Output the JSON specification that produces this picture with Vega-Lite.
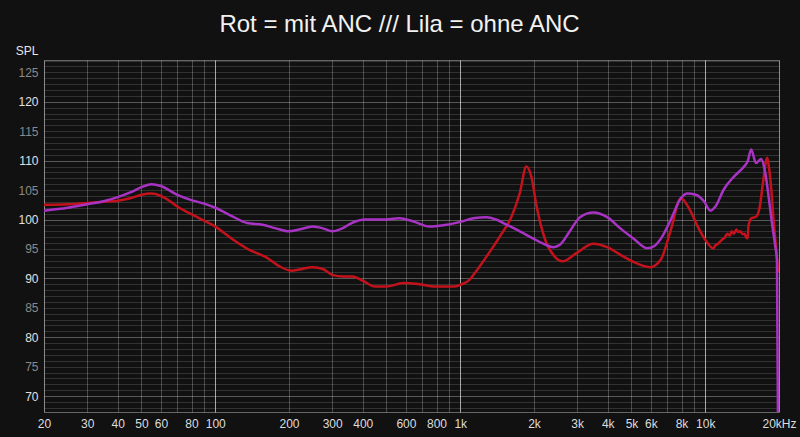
{
  "$schema": "https://vega.github.io/schema/vega-lite/v6.json",
  "width": 735,
  "height": 352,
  "autosize": {"type": "none"},
  "padding": {"left": 44, "top": 60, "right": 21, "bottom": 25},
  "background": "#111111",
  "title": {
    "text": "Rot = mit ANC /// Lila = ohne ANC",
    "color": "#f2f2f2",
    "font": "Liberation Sans",
    "fontSize": 24,
    "fontWeight": "normal",
    "anchor": "middle",
    "dx": -12,
    "baseline": "alphabetic",
    "offset": -12
  },
  "config": {"view": {"stroke": "#666666", "fill": "#111111"}},
  "datasets": {
    "rot": [
      {"f": 20, "db": 102.5}, {"f": 25, "db": 102.6}, {"f": 30, "db": 102.8}, {"f": 35, "db": 103.0},
      {"f": 40, "db": 103.2}, {"f": 45, "db": 103.6}, {"f": 50, "db": 104.2}, {"f": 55, "db": 104.4},
      {"f": 60, "db": 104.0}, {"f": 65, "db": 103.2}, {"f": 70, "db": 102.2}, {"f": 80, "db": 100.9},
      {"f": 90, "db": 99.8}, {"f": 100, "db": 98.8}, {"f": 118, "db": 96.6}, {"f": 137, "db": 94.9},
      {"f": 161, "db": 93.6}, {"f": 182, "db": 92.1}, {"f": 205, "db": 91.3}, {"f": 220, "db": 91.5},
      {"f": 250, "db": 91.9}, {"f": 275, "db": 91.6}, {"f": 300, "db": 90.6}, {"f": 333, "db": 90.3},
      {"f": 363, "db": 90.3}, {"f": 400, "db": 89.6}, {"f": 450, "db": 88.6}, {"f": 500, "db": 88.6},
      {"f": 585, "db": 89.2}, {"f": 660, "db": 89.1}, {"f": 795, "db": 88.6}, {"f": 940, "db": 88.6},
      {"f": 1000, "db": 88.9}, {"f": 1100, "db": 89.9}, {"f": 1133, "db": 90.6}, {"f": 1280, "db": 93.7},
      {"f": 1450, "db": 97.1}, {"f": 1620, "db": 100.5}, {"f": 1750, "db": 104.5}, {"f": 1860, "db": 109.0},
      {"f": 1950, "db": 107.3}, {"f": 2050, "db": 102.2}, {"f": 2220, "db": 96.6}, {"f": 2430, "db": 93.7},
      {"f": 2620, "db": 92.9}, {"f": 2980, "db": 94.3}, {"f": 3500, "db": 95.9}, {"f": 3980, "db": 95.3},
      {"f": 4510, "db": 94.0}, {"f": 5290, "db": 92.5}, {"f": 5960, "db": 91.9}, {"f": 6590, "db": 93.2},
      {"f": 7240, "db": 98.3}, {"f": 7950, "db": 103.6}, {"f": 8640, "db": 101.7}, {"f": 9320, "db": 98.8},
      {"f": 10100, "db": 96.3}, {"f": 10770, "db": 95.1}, {"f": 11000, "db": 95.6}, {"f": 11300, "db": 95.9},
      {"f": 11650, "db": 96.5}, {"f": 12000, "db": 96.9}, {"f": 12300, "db": 97.6}, {"f": 12600, "db": 97.3},
      {"f": 12830, "db": 98.0}, {"f": 13100, "db": 97.6}, {"f": 13400, "db": 98.3}, {"f": 13610, "db": 97.9},
      {"f": 13900, "db": 98.0}, {"f": 14200, "db": 97.5}, {"f": 14500, "db": 97.6}, {"f": 14660, "db": 97.0},
      {"f": 14900, "db": 96.8}, {"f": 15000, "db": 98.8}, {"f": 15400, "db": 100.2}, {"f": 16160, "db": 100.5},
      {"f": 16700, "db": 102.2}, {"f": 17200, "db": 106.2}, {"f": 17900, "db": 110.5}, {"f": 18140, "db": 109.3},
      {"f": 18600, "db": 105.1}, {"f": 19000, "db": 100.0}, {"f": 19320, "db": 96.5}, {"f": 19620, "db": 93.5},
      {"f": 19850, "db": 91.0}
    ],
    "lila": [
      {"f": 20, "db": 101.5}, {"f": 25, "db": 102.0}, {"f": 30, "db": 102.6}, {"f": 35, "db": 103.1},
      {"f": 40, "db": 103.8}, {"f": 45, "db": 104.6}, {"f": 50, "db": 105.5}, {"f": 55, "db": 106.0},
      {"f": 60, "db": 105.7}, {"f": 70, "db": 104.2}, {"f": 80, "db": 103.3}, {"f": 90, "db": 102.7},
      {"f": 100, "db": 102.0}, {"f": 118, "db": 100.5}, {"f": 135, "db": 99.4}, {"f": 156, "db": 99.1},
      {"f": 177, "db": 98.5}, {"f": 200, "db": 98.0}, {"f": 220, "db": 98.3}, {"f": 250, "db": 98.8},
      {"f": 275, "db": 98.5}, {"f": 300, "db": 98.0}, {"f": 330, "db": 98.5}, {"f": 360, "db": 99.4},
      {"f": 410, "db": 100.0}, {"f": 480, "db": 100.0}, {"f": 565, "db": 100.2}, {"f": 640, "db": 99.7},
      {"f": 750, "db": 98.8}, {"f": 880, "db": 99.1}, {"f": 1000, "db": 99.6}, {"f": 1130, "db": 100.2},
      {"f": 1280, "db": 100.4}, {"f": 1400, "db": 100.0}, {"f": 1550, "db": 99.1}, {"f": 1750, "db": 98.0},
      {"f": 1980, "db": 96.8}, {"f": 2180, "db": 95.9}, {"f": 2400, "db": 95.3}, {"f": 2550, "db": 95.7},
      {"f": 2800, "db": 98.0}, {"f": 3080, "db": 100.4}, {"f": 3500, "db": 101.2}, {"f": 3980, "db": 100.4},
      {"f": 4500, "db": 98.5}, {"f": 5120, "db": 96.7}, {"f": 5800, "db": 95.1}, {"f": 6200, "db": 95.5},
      {"f": 6600, "db": 96.8}, {"f": 7240, "db": 100.0}, {"f": 7950, "db": 103.6}, {"f": 8460, "db": 104.4},
      {"f": 9140, "db": 104.2}, {"f": 9880, "db": 103.1}, {"f": 10500, "db": 101.5}, {"f": 11000, "db": 102.2},
      {"f": 11900, "db": 105.1}, {"f": 13100, "db": 107.3}, {"f": 14400, "db": 109.0}, {"f": 14900, "db": 109.9},
      {"f": 15400, "db": 111.9}, {"f": 16100, "db": 109.6}, {"f": 16900, "db": 110.3}, {"f": 17580, "db": 107.9},
      {"f": 18140, "db": 103.9}, {"f": 18720, "db": 99.4}, {"f": 19320, "db": 95.4}, {"f": 19620, "db": 93.1},
      {"f": 19850, "db": 60.0}
    ]
  },
  "encoding": {
    "x": {
      "field": "f",
      "type": "quantitative",
      "scale": {"type": "log", "domain": [20, 20000], "nice": false},
      "axis": {
        "values": [20, 30, 40, 50, 60, 70, 80, 90, 100, 200, 300, 400, 500, 600, 700, 800, 900, 1000, 2000, 3000, 4000, 5000, 6000, 7000, 8000, 9000, 10000, 20000],
        "title": null,
        "grid": true,
        "gridColor": {"condition": {"test": "datum.value == 100 || datum.value == 1000 || datum.value == 10000", "value": "rgba(255,255,255,0.63)"}, "value": "rgba(255,255,255,0.24)"},
        "gridWidth": 1,
        "domain": false,
        "ticks": false,
        "labelPadding": 6,
        "labelColor": "#dddddd",
        "labelFont": "Liberation Sans",
        "labelFontSize": 12,
        "labelFlush": false,
        "labelOverlap": false,
        "labelBound": false,
        "labelExpr": "indexof([70, 90, 500, 700, 900, 7000, 9000], datum.value) >= 0 ? '' : (datum.value >= 20000 ? '20kHz' : (datum.value >= 1000 ? (datum.value / 1000) + 'k' : '' + datum.value))"
      }
    },
    "y": {
      "field": "db",
      "type": "quantitative",
      "scale": {"domain": [67.3, 127.1], "nice": false, "zero": false},
      "axis": {
        "values": [68, 69, 70, 71, 72, 73, 74, 75, 76, 77, 78, 79, 80, 81, 82, 83, 84, 85, 86, 87, 88, 89, 90, 91, 92, 93, 94, 95, 96, 97, 98, 99, 100, 101, 102, 103, 104, 105, 106, 107, 108, 109, 110, 111, 112, 113, 114, 115, 116, 117, 118, 119, 120, 121, 122, 123, 124, 125, 126, 127],
        "title": "SPL",
        "titleAngle": 0,
        "titleX": -6,
        "titleY": -6,
        "titleAlign": "right",
        "titleBaseline": "alphabetic",
        "titleColor": "#e6e6e6",
        "titleFont": "Liberation Sans",
        "titleFontSize": 12,
        "titleFontWeight": "normal",
        "grid": true,
        "gridColor": {"condition": {"test": "datum.value % 10 == 0", "value": "rgba(255,255,255,0.3)"}, "value": "rgba(255,255,255,0.14)"},
        "gridWidth": 1,
        "domain": false,
        "ticks": false,
        "labelPadding": 6,
        "labelFont": "Liberation Sans",
        "labelFontSize": 12,
        "labelExpr": "datum.value % 5 == 0 ? '' + datum.value : ''",
        "labelColor": {"condition": {"test": "datum.value % 10 == 0", "value": "#e0e0e0"}, "value": "#8a8a8a"},
        "labelOverlap": false
      }
    }
  },
  "layer": [
    {
      "data": {"name": "rot"},
      "mark": {"type": "line", "color": "#c4121c", "strokeWidth": 2.5, "clip": true, "interpolate": "monotone"}
    },
    {
      "data": {"name": "lila"},
      "mark": {"type": "line", "color": "#a833c4", "strokeWidth": 2.5, "clip": true, "interpolate": "monotone"}
    }
  ]
}
